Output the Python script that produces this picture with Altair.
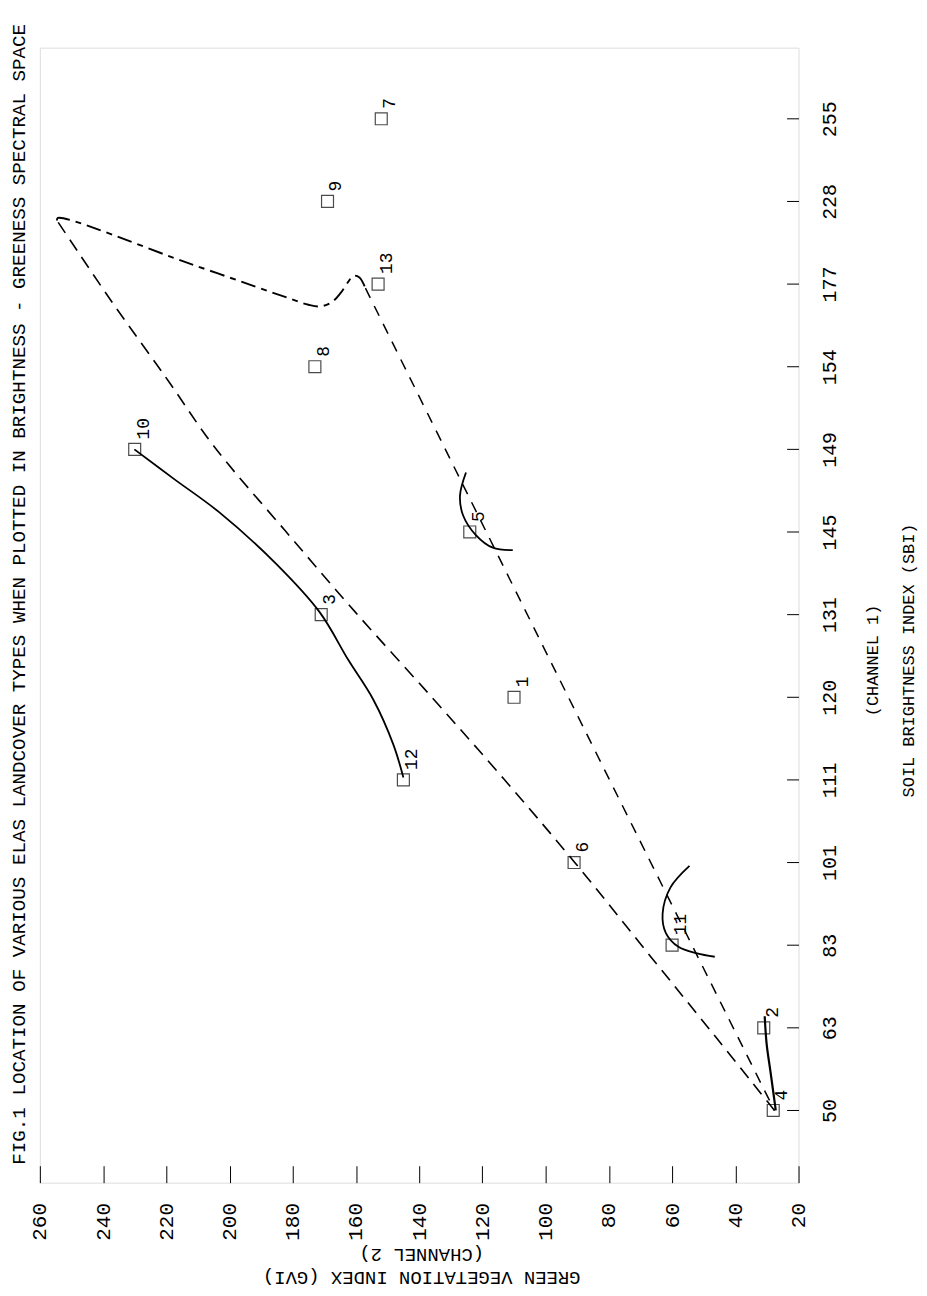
import altair as alt
import pandas as pd

FONT = "Liberation Mono"

# ---- titles ----
main_title = "FIG.1 LOCATION OF VARIOUS ELAS LANDCOVER TYPES WHEN PLOTTED IN BRIGHTNESS - GREENESS SPECTRAL SPACE"

# ---- axis values ----
sbi_ticks = [50, 63, 83, 101, 111, 120, 131, 145, 149, 154, 177, 228, 255]   # evenly spaced slots
gvi_ticks = [20, 40, 60, 80, 100, 120, 140, 160, 180, 200, 220, 240, 260]

# ---- landcover classes ----
class_ids = ["1", "2", "3", "4", "5", "6", "7", "8", "9", "10", "11", "12", "13"]
class_sbi = [120, 63, 131, 50, 145, 101, 255, 154, 228, 149, 83, 111, 177]
class_gvi = [110, 31, 171, 28, 124, 91, 152, 173, 169, 230, 60, 145, 153]

# ---- curves (GVI value, SBI slot position) ----
envA_gvi = [27.6, 45.8, 66.3, 91.2, 113.2, 135.3, 160.2, 182.5, 205.0, 219.4, 237.3, 254.6]
envA_slot = [0.0, 0.87, 1.84, 3.02, 4.01, 4.97, 6.03, 7.02, 8.04, 8.83, 9.79, 10.77]

envTop_gvi = [254.6, 254.3, 212.8, 181.3, 175.0, 171.2, 167.7, 164.9, 162.4, 160.8, 158.9, 157.0]
envTop_slot = [10.77, 10.80, 10.25, 9.83, 9.75, 9.73, 9.78, 9.89, 10.03, 10.10, 10.08, 9.95]

envB_gvi = [157.0, 92.4, 27.6]
envB_slot = [9.95, 4.97, 0.0]

curve10_gvi = [145.0, 148.2, 154.5, 162.4, 171.5, 185.4, 203.3, 217.5, 230.1]
curve10_slot = [4.03, 4.43, 4.97, 5.45, 6.03, 6.62, 7.24, 7.64, 8.0]

arc5_gvi = [125.2, 127.1, 126.1, 122.0, 116.7, 110.4]
arc5_slot = [7.72, 7.44, 7.20, 6.96, 6.81, 6.78]

arc11_gvi = [54.5, 60.5, 63.0, 62.0, 58.0, 52.1, 46.5]
arc11_slot = [2.96, 2.70, 2.38, 2.15, 1.98, 1.90, 1.86]

curve4_gvi = [27.2, 28.8, 30.1, 30.7]
curve4_slot = [0.0, 0.45, 0.81, 1.14]

# ---- data frames ----
pts = pd.DataFrame({
    "id": class_ids,
    "gvi": class_gvi,
    "slot": [sbi_ticks.index(s) for s in class_sbi],
})


def curve_df(g, s):
    return pd.DataFrame({"gvi": g, "slot": s, "i": list(range(len(g)))})


label_expr = "[" + ",".join("'%d'" % v for v in sbi_ticks) + "][datum.value]"

x_enc = alt.X(
    "gvi:Q",
    scale=alt.Scale(domain=[20, 260], reverse=True, nice=False, zero=False),
    axis=alt.Axis(
        values=gvi_ticks, orient="bottom", offset=-17, tickSize=17, domain=False,
        grid=False, tickColor="black", tickWidth=1,
        labelAngle=270, labelAlign="right", labelBaseline="middle", labelPadding=20,
        labelFont=FONT, labelFontSize=21, labelColor="black",
        labelFlush=False, labelOverlap=False,
        title=["GREEN VEGETATION INDEX (GVI)", "(CHANNEL 2)"],
        titleAngle=180, titleAlign="center", titleBaseline="alphabetic",
        titleX=383, titleY=106, titleLineHeight=23,
        titleFont=FONT, titleFontSize=19, titleFontWeight="normal", titleColor="black",
    ),
)

y_enc = alt.Y(
    "slot:Q",
    scale=alt.Scale(domain=[-0.8735, 12.861], nice=False, zero=False),
    axis=alt.Axis(
        values=list(range(len(sbi_ticks))), orient="right", offset=-12, tickSize=12,
        domain=False, grid=False, tickColor="black", tickWidth=1,
        labelExpr=label_expr,
        labelAngle=270, labelAlign="center", labelBaseline="top", labelPadding=21,
        labelFont=FONT, labelFontSize=20, labelColor="black",
        labelFlush=False, labelOverlap=False,
        title=["(CHANNEL 1)", "SOIL BRIGHTNESS INDEX (SBI)"],
        titleAngle=270, titleAlign="center", titleBaseline="alphabetic",
        titleX=91, titleY=615, titleLineHeight=36,
        titleFont=FONT, titleFontSize=17, titleFontWeight="normal", titleColor="black",
    ),
)


def line_layer(g, s, width, dash=None):
    kw = dict(color="black", strokeWidth=width, strokeCap="butt", interpolate="catmull-rom")
    if dash:
        kw["strokeDash"] = dash
    return alt.Chart(curve_df(g, s)).mark_line(**kw).encode(
        x=x_enc, y=y_enc, order=alt.Order("i:Q")
    )


layers = [
    line_layer(envA_gvi, envA_slot, 1.6, [13, 8]),
    line_layer(envTop_gvi, envTop_slot, 1.9, [15, 6, 6, 6]),
    line_layer(envB_gvi, envB_slot, 1.5, [11, 9]),
    line_layer(curve10_gvi, curve10_slot, 1.8),
    line_layer(arc5_gvi, arc5_slot, 1.8),
    line_layer(arc11_gvi, arc11_slot, 1.8),
    line_layer(curve4_gvi, curve4_slot, 2.2),
    alt.Chart(pts).mark_square(filled=False, size=144, color="black", strokeWidth=1.2).encode(
        x=x_enc, y=y_enc
    ),
    alt.Chart(pts).mark_text(
        angle=270, align="left", baseline="middle", dx=10, dy=9,
        font=FONT, fontSize=18, color="black"
    ).encode(x=x_enc, y=y_enc, text="id:N"),
    alt.Chart(pd.DataFrame({"t": [main_title]})).mark_text(
        angle=270, align="left", baseline="alphabetic",
        font=FONT, fontSize=19.3, color="black"
    ).encode(x=alt.value(-15), y=alt.value(1122), text="t:N"),
]

chart = alt.layer(*layers).properties(
    width=762,
    height=1140,
    autosize=alt.AutoSizeParams(type="none"),
    padding={"left": 32, "top": 37, "right": 121, "bottom": 103},
).configure_view(stroke="#333", strokeWidth=1).configure(background="white")

chart.save("out.html", embed_options={"renderer": "svg", "actions": False})
